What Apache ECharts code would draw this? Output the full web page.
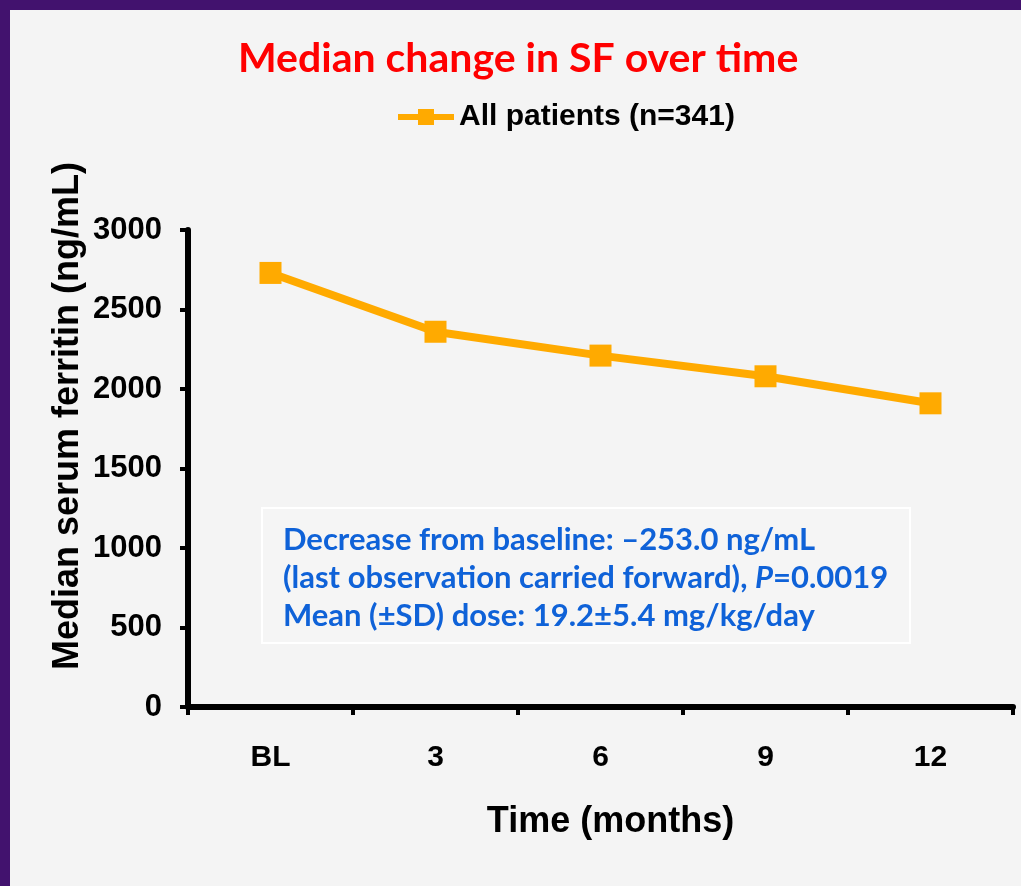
<!DOCTYPE html>
<html>
<head>
<meta charset="utf-8">
<script src="https://cdn.jsdelivr.net/npm/echarts@6/dist/echarts.min.js"></script>
<style>
html,body{margin:0;padding:0;background:#42126e;}
#chart{width:1021px;height:886px;}
</style>
</head>
<body>
<div id="chart"></div>
<script>
const categories = ['BL', '3', '6', '9', '12'];
const seriesName = 'All patients (n=341)';
const medianSF = [2730, 2360, 2210, 2080, 1910];
const yTicks = [0, 500, 1000, 1500, 2000, 2500, 3000];
const titleText = 'Median change in SF over time';
const yAxisName = 'Median serum ferritin (ng/mL)';
const xAxisName = 'Time (months)';
const noteLines = [
  'Decrease from baseline: \u2013253.0 ng/mL',
  '(last observation carried forward), {i|P}=0.0019',
  'Mean (\u00B1SD) dose: 19.2\u00B15.4 mg/kg/day'
];

const chart = echarts.init(document.getElementById('chart'), null, {renderer: 'canvas'});
const axisFont = 'Liberation Sans, Arial, sans-serif';
const option = {
  backgroundColor: '#42126e',
  animation: false,
  title: {
    text: titleText,
    left: 233,
    top: 33,
    textStyle: {color: '#FF0000', fontFamily: 'Lato, sans-serif', fontWeight: 'bold', fontSize: 41}
  },
  legend: {
    left: 390,
    top: 97,
    itemWidth: 56,
    itemHeight: 20,
    itemGap: 6,
    lineStyle: {width: 6},
    textStyle: {color: '#000', fontFamily: axisFont, fontWeight: 'bold', fontSize: 30}
  },
  grid: {left: 188, right: 8, top: 230, bottom: 179, containLabel: false},
  xAxis: {
    type: 'category',
    data: categories,
    boundaryGap: true,
    name: xAxisName,
    nameLocation: 'middle',
    nameGap: 97,
    nameTextStyle: {color: '#000', fontFamily: axisFont, fontWeight: 'bold', fontSize: 36, padding: [0, 0, 0, 20]},
    axisLine: {lineStyle: {color: '#000', width: 6}},
    axisTick: {show: true, alignWithLabel: false, length: 8, lineStyle: {color: '#000', width: 4}},
    axisLabel: {color: '#000', fontFamily: axisFont, fontWeight: 'bold', fontSize: 30, margin: 36},
    splitLine: {show: false}
  },
  yAxis: {
    type: 'value',
    min: yTicks[0],
    max: yTicks[yTicks.length - 1],
    interval: yTicks[1] - yTicks[0],
    axisLine: {show: true, lineStyle: {color: '#000', width: 6}},
    axisTick: {show: true, length: 8, lineStyle: {color: '#000', width: 4}},
    axisLabel: {color: '#000', fontFamily: axisFont, fontWeight: 'bold', fontSize: 31, margin: 26,
      formatter: function (v) { return String(v); }},
    splitLine: {show: false}
  },
  graphic: [
    {type: 'rect', z: -10, silent: true, shape: {x: 10, y: 10, width: 1011, height: 876}, style: {fill: '#F4F4F4'}},
    {type: 'text', z: 2, silent: true, x: 68, y: 416, rotation: Math.PI / 2,
      style: {text: yAxisName, fill: '#000', font: 'bold 36px Liberation Sans, Arial, sans-serif',
        textAlign: 'center', textVerticalAlign: 'middle'}},
    {type: 'rect', z: 1, silent: true, shape: {x: 262, y: 508, width: 648, height: 135},
      style: {fill: '#F5F5F5', stroke: '#FFFFFF', lineWidth: 2}},
    {type: 'text', z: 2, silent: true, x: 283, y: 521,
      style: {
        text: noteLines.join('\n'),
        fill: '#0F62D8',
        font: 'bold 31px Lato, sans-serif',
        lineHeight: 38,
        rich: {i: {fontStyle: 'italic', fontWeight: 'bold', fontSize: 31, fontFamily: 'Lato, sans-serif', fill: '#0F62D8'}}
      }}
  ],
  series: [{
    name: seriesName,
    type: 'line',
    data: medianSF,
    symbol: 'rect',
    symbolSize: 22,
    itemStyle: {color: '#FFAA00'},
    lineStyle: {color: '#FFAA00', width: 8},
    z: 3
  }]
};
chart.setOption(option);
</script>
</body>
</html>
